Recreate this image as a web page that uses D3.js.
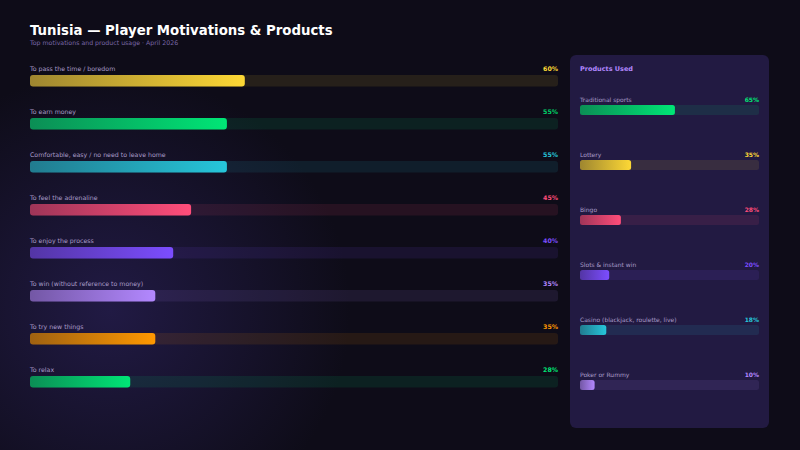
<!DOCTYPE html>
<html><head><meta charset="utf-8">
<script src="https://cdn.jsdelivr.net/npm/d3@7/dist/d3.min.js"></script>
<style>html,body{margin:0;padding:0;background:#0e0c18;}svg{display:block;}</style>
</head><body>
<svg id="c" width="800" height="450"></svg>
<script>
const motivations = ["To pass the time / boredom","To earn money","Comfortable, easy / no need to leave home","To feel the adrenaline","To enjoy the process","To win (without reference to money)","To try new things","To relax"];
const motivationValues = [60,55,55,45,40,35,35,28];
const motivationColors = ["#fdd835","#00e676","#26c6da","#ff4d7a","#7c4dff","#b388ff","#ff9800","#00e676"];
const products = ["Traditional sports","Lottery","Bingo","Slots & instant win","Casino (blackjack, roulette, live)","Poker or Rummy"];
const productValues = [65,35,28,20,18,10];
const productColors = ["#00e676","#fdd835","#ff4d7a","#7c4dff","#26c6da","#b388ff"];
const valueColorsLeft = ["#fdd835","#00d26a","#26c6da","#ff4d7a","#7c4dff","#b388ff","#ff9800","#00e676"];

const svg = d3.select("#c");
const defs = svg.append("defs");
const font = "DejaVu Sans, sans-serif";

// background
const rg = defs.append("radialGradient").attr("id","glow").attr("cx",110).attr("cy",310).attr("r",240).attr("gradientUnits","userSpaceOnUse");
rg.append("stop").attr("offset","0%").attr("stop-color","#211a44");
rg.append("stop").attr("offset","100%").attr("stop-color","#0e0c18");
svg.append("rect").attr("width",800).attr("height",450).attr("fill","#0e0c18");
svg.append("rect").attr("width",800).attr("height",450).attr("fill","url(#glow)");

svg.append("text").attr("x",30).attr("y",35).attr("fill","#ffffff").attr("font-family",font).attr("font-weight","bold").attr("font-size",13.3).text("Tunisia — Player Motivations & Products");
svg.append("text").attr("x",30).attr("y",45).attr("fill","#7a68a8").attr("font-family",font).attr("font-size",6.25).text("Top motivations and product usage · April 2026");

function grad(id, color){
  const g = defs.append("linearGradient").attr("id",id).attr("x1","0%").attr("x2","100%").attr("y1","0%").attr("y2","0%");
  const dark = d3.interpolateRgb(color, "#1a1428")(0.42);
  g.append("stop").attr("offset","0%").attr("stop-color",dark);
  g.append("stop").attr("offset","100%").attr("stop-color",color);
}

// left
const xL = d3.scaleLinear().domain([0,100]).range([0,358]);
const yL = d3.scaleBand().domain(motivations).range([75, 75+43*8]);
const left = svg.append("g");
motivations.forEach((m,i)=>{
  const y = yL(m);
  const col = motivationColors[i];
  grad("gl"+i, col);
  left.append("text").attr("x",30).attr("y",y-4).attr("fill","#a99cc8").attr("font-family",font).attr("font-size",6.25).text(m);
  left.append("text").attr("x",558).attr("y",y-4).attr("text-anchor","end").attr("fill",valueColorsLeft[i]).attr("font-family",font).attr("font-weight","bold").attr("font-size",6.25).text(motivationValues[i]+"%");
  left.append("rect").attr("x",30).attr("y",y).attr("width",528).attr("height",11.5).attr("rx",3).attr("fill",col).attr("fill-opacity",0.1);
  left.append("rect").attr("x",30).attr("y",y).attr("width",xL(motivationValues[i])).attr("height",11.5).attr("rx",3).attr("fill","url(#gl"+i+")");
});

// right panel
svg.append("rect").attr("x",570).attr("y",55).attr("width",199).attr("height",373).attr("rx",6).attr("fill","#221a42");
svg.append("text").attr("x",580).attr("y",71).attr("fill","#b388ff").attr("font-family",font).attr("font-weight","bold").attr("font-size",6.5).text("Products Used");
const xR = d3.scaleLinear().domain([0,100]).range([0,146]);
const yR = d3.scaleBand().domain(products).range([105, 105+55*6]);
products.forEach((p,i)=>{
  const y = yR(p);
  const col = productColors[i];
  grad("gr"+i, col);
  svg.append("text").attr("x",580).attr("y",y-3.5).attr("fill","#a99cc8").attr("font-family",font).attr("font-size",6).text(p);
  svg.append("text").attr("x",759).attr("y",y-3.5).attr("text-anchor","end").attr("fill",col).attr("font-family",font).attr("font-weight","bold").attr("font-size",6).text(productValues[i]+"%");
  svg.append("rect").attr("x",580).attr("y",y).attr("width",179).attr("height",10).attr("rx",2.5).attr("fill",col).attr("fill-opacity",0.1);
  svg.append("rect").attr("x",580).attr("y",y).attr("width",xR(productValues[i])).attr("height",10).attr("rx",2.5).attr("fill","url(#gr"+i+")");
});
</script>
</body></html>
